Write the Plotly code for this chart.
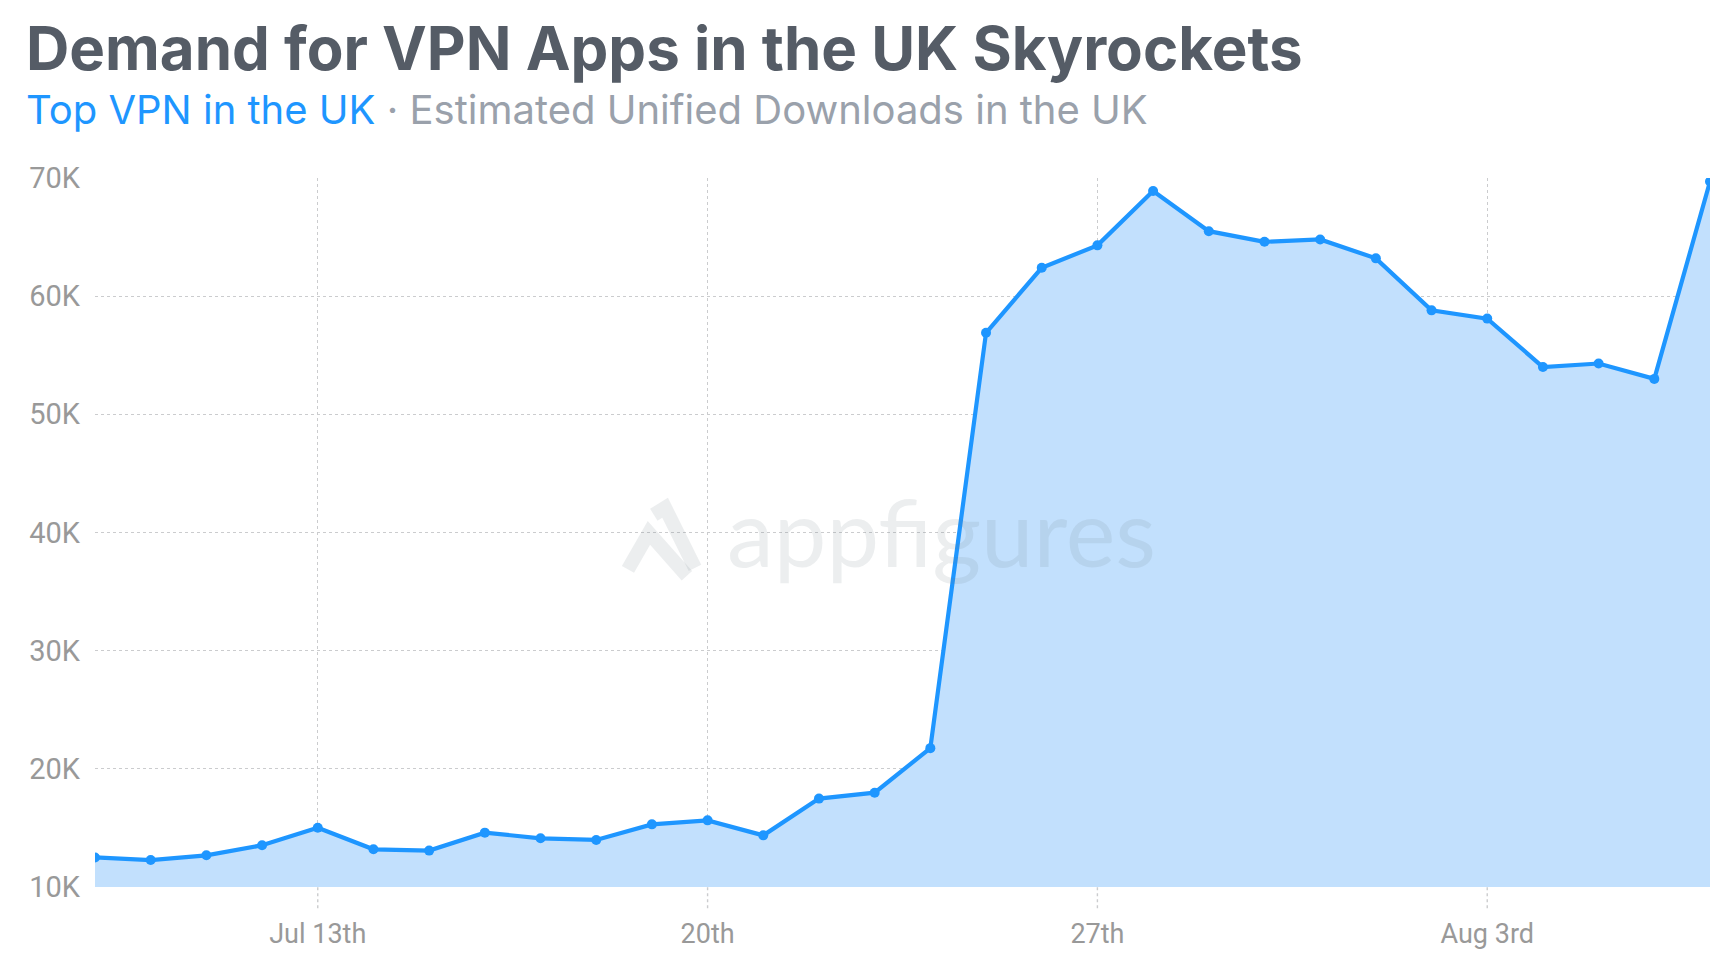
import plotly.graph_objects as go

dates = ["2025-07-09", "2025-07-10", "2025-07-11", "2025-07-12", "2025-07-13",
         "2025-07-14", "2025-07-15", "2025-07-16", "2025-07-17", "2025-07-18",
         "2025-07-19", "2025-07-20", "2025-07-21", "2025-07-22", "2025-07-23",
         "2025-07-24", "2025-07-25", "2025-07-26", "2025-07-27", "2025-07-28",
         "2025-07-29", "2025-07-30", "2025-07-31", "2025-08-01", "2025-08-02",
         "2025-08-03", "2025-08-04", "2025-08-05", "2025-08-06", "2025-08-07"]
downloads = [12500, 12280, 12680, 13530, 15020,
             13190, 13080, 14600, 14120, 13980,
             15300, 15640, 14370, 17480, 17980,
             21750, 56900, 62400, 64300, 68900,
             65500, 64600, 64800, 63200, 58800,
             58100, 54000, 54300, 53000, 69700]

x_tickvals = ["2025-07-13", "2025-07-20", "2025-07-27", "2025-08-03"]
x_ticktext = ["Jul 13th", "20th", "27th", "Aug 3rd"]
y_tickvals = [10000, 20000, 30000, 40000, 50000, 60000, 70000]
y_ticktext = ["10K", "20K", "30K", "40K", "50K", "60K", "70K"]

title_text = "Demand for VPN Apps in the UK Skyrockets"
subtitle_app = "Top VPN in the UK"
subtitle_rest = " · Estimated Unified Downloads in the UK"

BLUE = "#1E96FF"
FILL = "#C2E0FD"
GRID = "#CBCCCE"
TICK = "#999999"
WM = "rgba(110,120,135,0.13)"

fig = go.Figure()
fig.add_trace(go.Scatter(
    x=dates, y=downloads, mode="lines+markers",
    line=dict(color=BLUE, width=4.2),
    marker=dict(color=BLUE, size=10),
    fill="tozeroy", fillcolor=FILL,
    hoverinfo="x+y", showlegend=False,
))

# dashed tick extensions below the plot
for tv in x_tickvals:
    fig.add_shape(type="line", xref="x", yref="paper", x0=tv, x1=tv, y0=-0.03, y1=0,
                  line=dict(color=GRID, width=1.4, dash="3px,3px"), layer="below")

# watermark
fig.add_annotation(xref="paper", yref="paper", x=0.524, y=0.503, xanchor="center", yanchor="middle",
                   text="appfigures", showarrow=False,
                   font=dict(family="Lato", size=94, color=WM))
fig.add_shape(type="path", xref="paper", yref="paper",
              path="M 0.3300,0.4480 L 0.3430,0.4995 L 0.3665,0.4390",
              line=dict(color=WM, width=14), layer="above")
fig.add_shape(type="path", xref="paper", yref="paper",
              path="M 0.3460,0.5250 L 0.3530,0.5350 L 0.3715,0.4500",
              line=dict(color=WM, width=14), layer="above")

fig.update_layout(
    width=1732, height=974,
    paper_bgcolor="white", plot_bgcolor="white",
    margin=dict(l=95, r=22, t=178, b=87),
    font=dict(family="Roboto", color=TICK),
    xaxis=dict(
        type="date", range=[dates[0], dates[-1]],
        tickvals=x_tickvals, ticktext=x_ticktext,
        showgrid=True, gridcolor=GRID, griddash="3px,3px", gridwidth=1.4,
        zeroline=False, showline=False, ticks="",
        tickfont=dict(family="Roboto", size=27, color=TICK),
        ticklabelstandoff=28,
    ),
    yaxis=dict(
        range=[10000, 70000],
        tickvals=y_tickvals, ticktext=y_ticktext,
        showgrid=True, gridcolor=GRID, griddash="3px,3px", gridwidth=1.4,
        zeroline=False, showline=False, ticks="",
        tickfont=dict(family="Roboto", size=29, color=TICK),
        ticklabelstandoff=14,
    ),
    annotations=list(fig.layout.annotations) + [
        dict(xref="paper", yref="paper", x=-0.0437, y=1.0 + (178 - 86) / 709.0,
             xanchor="left", yanchor="bottom", showarrow=False,
             text=title_text,
             font=dict(family="Inter", size=60, weight=700, color="#555C66")),
        dict(xref="paper", yref="paper", x=-0.0437, y=1.0 + (178 - 136) / 709.0,
             xanchor="left", yanchor="bottom", showarrow=False,
             text="<span style='color:#1E96FF'>" + subtitle_app + "</span>"
                  "<span style='color:#9AA1AB'>" + subtitle_rest + "</span>",
             font=dict(family="Inter", size=40, color="#9AA1AB")),
    ],
)

fig.write_html("out.html")
